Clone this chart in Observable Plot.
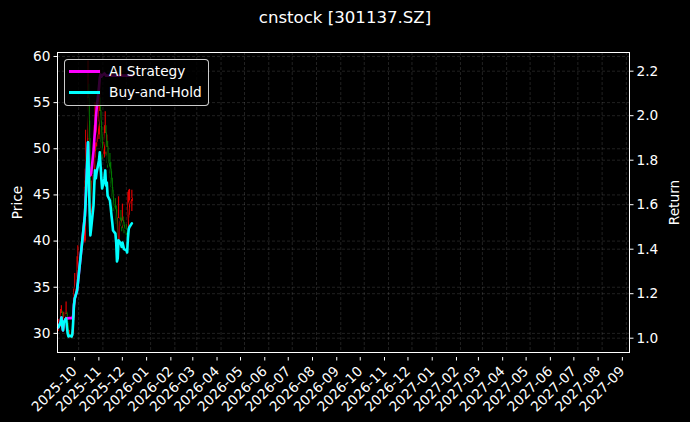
<!DOCTYPE html>
<html><head><meta charset="utf-8">
<script src="https://cdn.jsdelivr.net/npm/d3@7"></script>
<script src="https://cdn.jsdelivr.net/npm/@observablehq/plot@0.6"></script>
<style>
html,body{margin:0;padding:0;background:#000;}
#wrap{position:relative;width:690px;height:422px;background:#000;font-family:"DejaVu Sans",sans-serif;color:#fff;overflow:hidden;}
#title{height:36px;line-height:36px;text-align:center;font-size:16.6px;}
#legend{position:absolute;left:64px;top:59px;width:143px;height:45px;border:1px solid rgba(255,255,255,0.8);border-radius:4px;background:rgba(0,0,0,0.8);font-size:13.7px;}
.row{position:absolute;left:0;height:20px;line-height:20px;}
.sw{position:absolute;left:4px;width:31px;height:2.6px;top:9px;}
.lt{position:absolute;left:44px;white-space:nowrap;}
svg{display:block;}
</style>
</head><body>
<div id="wrap">
<div id="title">cnstock [301137.SZ]</div>
<div id="chart"></div>
<div id="legend">
 <div class="row" style="top:1px"><span class="sw" style="background:#ff00ff"></span><span class="lt">AI Strategy</span></div>
 <div class="row" style="top:22px"><span class="sw" style="background:#00ffff"></span><span class="lt">Buy-and-Hold</span></div>
</div>
</div>
<script>
const dates = ["2025-09-05","2025-09-08","2025-09-09","2025-09-10","2025-09-11","2025-09-12","2025-09-15","2025-09-16","2025-09-17","2025-09-18","2025-09-19","2025-09-22","2025-09-23","2025-09-24","2025-09-25","2025-09-26","2025-09-29","2025-09-30","2025-10-09","2025-10-10","2025-10-13","2025-10-14","2025-10-15","2025-10-16","2025-10-17","2025-10-20","2025-10-21","2025-10-22","2025-10-23","2025-10-24","2025-10-27","2025-10-28","2025-10-29","2025-10-30","2025-10-31","2025-11-03","2025-11-04","2025-11-05","2025-11-06","2025-11-07","2025-11-10","2025-11-11","2025-11-12","2025-11-13","2025-11-14","2025-11-17","2025-11-18","2025-11-19","2025-11-20","2025-11-21","2025-11-24","2025-11-25","2025-11-26","2025-11-27","2025-11-28","2025-12-01","2025-12-02","2025-12-03","2025-12-04","2025-12-05","2025-12-08"];
const opens  = [30.5,30.9,31.6,32.2,31.2,30.5,31.6,32.1,31.1,30.1,29.7,29.9,29.7,30.0,31.6,33.8,34.8,35.8,40.0,45.8,48.0,55.5,51.1,46.4,43.1,44.0,47.1,49.7,51.7,50.7,51.5,53.1,54.1,52.4,50.7,49.4,50.7,51.7,49.7,50.2,48.4,47.8,46.8,45.8,44.8,43.8,43.4,42.2,39.7,40.1,42.5,42.0,41.6,42.2,41.7,41.3,41.2,40.9,42.8,44.0,44.3];
const highs  = [31.5,32.6,33.0,32.4,31.5,32.3,33.4,32.3,31.3,30.4,30.3,30.1,30.4,32.5,34.8,36.5,38.3,39.5,46.5,52.0,59.5,57.0,53.0,48.0,46.5,49.0,52.5,55.0,53.5,53.8,56.5,58.5,55.5,53.0,51.5,52.5,54.0,52.5,51.5,50.8,49.5,48.5,47.5,46.8,45.5,44.6,43.8,42.5,41.5,44.8,43.3,42.4,44.0,42.6,42.0,41.8,41.5,45.3,45.5,45.6,45.5];
const lows   = [30.2,30.7,31.3,31.0,30.3,30.4,31.4,30.9,29.9,29.5,29.5,29.4,29.5,29.9,31.4,33.5,34.6,35.5,39.8,45.0,47.5,50.0,45.5,42.5,42.0,43.8,46.8,49.0,49.8,50.2,51.0,52.5,51.8,50.0,48.8,49.0,50.3,49.2,49.3,47.9,47.3,46.2,45.3,44.3,43.2,43.0,41.8,39.2,39.3,39.9,41.6,41.0,41.4,41.3,40.8,40.6,40.4,40.8,42.5,43.6,43.2];
const closes = [30.9,31.6,32.2,31.2,30.5,31.6,32.1,31.1,30.1,29.7,29.9,29.7,30.0,31.6,33.8,34.8,35.8,36.8,45.8,47.8,55.5,51.1,46.4,43.1,44.0,47.1,49.7,51.7,50.7,51.5,53.1,54.1,52.4,50.7,49.4,50.7,51.7,49.7,50.2,48.4,47.8,46.8,45.8,44.8,43.8,43.4,42.2,39.7,40.1,42.5,42.0,41.6,42.2,41.7,41.3,41.2,40.9,42.8,44.0,44.3,44.7];
const aiStrategy = [1.048,1.071,1.093,1.057,1.035,1.071,1.089,1.089,1.089,1.090,1.091,1.090,1.090,1.100,1.147,1.178,1.214,1.246,1.551,1.619,1.880,1.731,1.731,1.731,1.740,1.840,1.890,1.935,1.990,2.030,2.130,2.170,2.185,2.175,2.180,2.190,2.185,2.180,2.180,2.180,2.180,2.180,2.180,2.180,2.180,2.180,2.180,2.180,2.180,2.180,2.180,2.180,2.180,2.180,2.180,2.180,2.180,2.180,2.180,2.180,2.180];
const buyHold = [1.048,1.071,1.093,1.057,1.035,1.071,1.089,1.053,1.021,1.008,1.012,1.008,1.017,1.071,1.147,1.178,1.214,1.246,1.551,1.619,1.880,1.731,1.574,1.462,1.493,1.596,1.686,1.754,1.718,1.745,1.799,1.835,1.776,1.718,1.673,1.718,1.754,1.686,1.700,1.641,1.619,1.587,1.551,1.520,1.484,1.470,1.430,1.345,1.360,1.440,1.425,1.410,1.430,1.415,1.400,1.395,1.385,1.450,1.490,1.500,1.516];
const xTickLabels = ["2025-10","2025-11","2025-12","2026-01","2026-02","2026-03","2026-04","2026-05","2026-06","2026-07","2026-08","2026-09","2026-10","2026-11","2026-12","2027-01","2027-02","2027-03","2027-04","2027-05","2027-06","2027-07","2027-08","2027-09"];
const priceTicks = [30,35,40,45,50,55,60];
const returnTicks = [1.0,1.2,1.4,1.6,1.8,2.0,2.2];
const xDomain = ["2025-09-04","2027-09-05"];
const priceDomain = [27.93,60.43];
const returnDomain = [0.9357,2.284];

const parse = d3.utcParse("%Y-%m-%d");
const parseM = d3.utcParse("%Y-%m");
const toPrice = d3.scaleLinear().domain(returnDomain).range(priceDomain);
const rows = dates.map((d,i)=>({date:parse(d),open:opens[i],high:highs[i],low:lows[i],close:closes[i],ai:aiStrategy[i],bh:buyHold[i]}));
const xTicks = xTickLabels.map(parseM);
const candleColor = d => d.close >= d.open ? "#ff0000" : "#008000";
const gridStyle = {stroke:"#ffffff", strokeOpacity:0.22, strokeDasharray:"3,2", strokeWidth:0.6};

const chart = Plot.plot({
  width:690, height:386,
  marginTop:16, marginBottom:70, marginLeft:57, marginRight:61,
  style:{background:"#000", color:"#fff", fontFamily:"DejaVu Sans, sans-serif", fontSize:"13.7px", overflow:"visible"},
  x:{type:"utc", domain:xDomain.map(parse)},
  y:{domain:priceDomain},
  marks:[
    Plot.gridX(xTicks, gridStyle),
    Plot.gridY(priceTicks, gridStyle),
    Plot.gridY(returnTicks.map(toPrice), gridStyle),
    Plot.ruleX(rows, {x:"date", y1:"low", y2:"high", stroke:candleColor, strokeWidth:1.2, strokeOpacity:0.85}),
    Plot.ruleX(rows, {x:"date", y1:"open", y2:"close", stroke:candleColor, strokeWidth:2, strokeOpacity:0.85}),
    Plot.line(rows, {x:"date", y:"close", stroke:"#000", strokeWidth:1}),
    Plot.line(rows, {x:"date", y:d=>toPrice(d.ai), stroke:"#ff00ff", strokeWidth:2.6}),
    Plot.line(rows, {x:"date", y:d=>toPrice(d.bh), stroke:"#00ffff", strokeWidth:2.6}),
    Plot.frame({stroke:"#fff", strokeWidth:1}),
    Plot.axisX(xTicks, {tickFormat:d3.utcFormat("%Y-%m"), tickRotate:-45, tickSize:3.5, tickPadding:8, dx:-4, dy:5, label:null, fill:"#fff", stroke:"#fff"}),
    Plot.axisY(priceTicks, {anchor:"left", tickSize:3.5, tickPadding:3.5, label:"Price", labelAnchor:"center", labelArrow:"none", labelOffset:45, fill:"#fff", stroke:"#fff"}),
    Plot.axisY(returnTicks.map(toPrice), {anchor:"right", tickSize:3.5, tickPadding:3.5, tickFormat:d=>d3.format(".1f")(toPrice.invert(d)), label:"Return", labelAnchor:"center", labelArrow:"none", labelOffset:49, fill:"#fff", stroke:"#fff"})
  ]
});
document.getElementById("chart").appendChild(chart);
</script>
</body></html>
